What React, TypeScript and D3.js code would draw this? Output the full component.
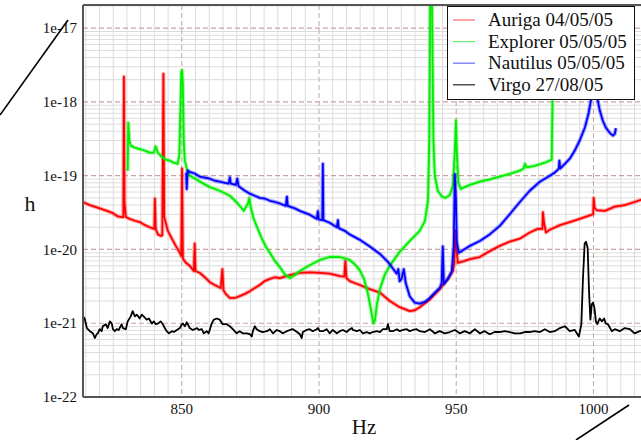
import React from 'react';
import * as d3 from 'd3';

type Pt = [number, number];

const freqDomain: [number, number] = [814, 1020];
const hDomain: [number, number] = [1e-22, 2.06e-17];
const xTicks = [850, 900, 950, 1000];
const yTicks = [1e-22, 1e-21, 1e-20, 1e-19, 1e-18, 1e-17];
const yTickLabels = ['1e-22', '1e-21', '1e-20', '1e-19', '1e-18', '1e-17'];
const xLabel = 'Hz';
const yLabel = 'h';
const seriesNames = ['Auriga 04/05/05', 'Explorer 05/05/05', 'Nautilus 05/05/05', 'Virgo 27/08/05'];
const seriesColors = ['#ff0000', '#00ee00', '#0000ff', '#000000'];
const legendColors = ['#ff6a6a', '#6af06a', '#6a6aff', '#222222'];

const auriga: Pt[] = [
  [813.9, 4.4e-20], [816.5, 4.0e-20], [820.1, 3.6e-20], [823.0, 3.3e-20], [824.9, 3.1e-20], [826.7, 2.8e-20],
  [828.1, 2.75e-20], [828.7, 2.75e-20], [828.9, 2.2e-18], [829.1, 4.5e-20], [829.6, 2.75e-20], [831.0, 2.6e-20],
  [832.9, 2.45e-20], [834.7, 2.35e-20], [836.5, 2.15e-20], [838.3, 2.0e-20], [840.0, 1.9e-20], [840.2, 4.9e-20],
  [840.5, 1.9e-20], [841.3, 1.6e-20], [842.3, 1.53e-20], [842.9, 1.55e-20], [843.3, 2.4e-18], [843.6, 2.75e-20],
  [844.9, 1.8e-20], [846.4, 1.4e-20], [847.8, 1.12e-20], [849.3, 9.0e-21], [849.8, 8.2e-21], [850.1, 1.25e-19],
  [850.4, 7.5e-21], [851.5, 6.6e-21], [852.9, 6.0e-21], [854.4, 5.1e-21], [854.7, 1.2e-20], [855.0, 5.1e-21],
  [856.6, 4.8e-21], [858.4, 4.2e-21], [860.2, 3.6e-21], [862.0, 3.3e-21], [864.2, 3.0e-21], [864.8, 5.4e-21],
  [865.2, 2.8e-21], [866.0, 2.5e-21], [867.5, 2.2e-21], [869.3, 2.2e-21], [871.1, 2.33e-21], [873.0, 2.5e-21],
  [874.8, 2.72e-21], [876.6, 3.0e-21], [878.4, 3.3e-21], [880.2, 3.73e-21], [882.1, 4.0e-21], [883.9, 4.2e-21],
  [885.7, 4.1e-21], [889.4, 4.5e-21], [893.0, 4.8e-21], [896.6, 4.9e-21], [900.3, 4.8e-21], [903.9, 4.7e-21],
  [907.6, 4.36e-21], [909.2, 4.3e-21], [909.6, 7.0e-21], [910.0, 4.1e-21], [911.2, 3.73e-21], [914.9, 3.3e-21],
  [918.5, 2.9e-21], [922.2, 2.6e-21], [925.8, 2.0e-21], [929.4, 1.65e-21], [933.1, 1.46e-21], [934.9, 1.5e-21],
  [936.7, 1.65e-21], [940.4, 2.1e-21], [944.0, 2.9e-21], [947.0, 4.0e-21], [948.8, 5.1e-21], [949.3, 6.6e-21],
  [949.7, 1.8e-20], [950.1, 1.0e-20], [950.6, 6.6e-21], [953.1, 7.0e-21], [955.0, 7.4e-21], [958.6, 7.9e-21],
  [962.2, 9.5e-21], [965.9, 1.12e-20], [969.5, 1.28e-20], [973.2, 1.4e-20], [976.8, 1.7e-20], [979.7, 1.9e-20],
  [981.4, 1.9e-20], [981.6, 3.2e-20], [982.0, 2.3e-20], [982.7, 1.7e-20], [984.1, 1.85e-20], [987.8, 2.14e-20],
  [991.4, 2.35e-20], [995.0, 2.6e-20], [998.7, 2.9e-20], [999.9, 3.0e-20], [1000.1, 5.0e-20], [1000.4, 3.7e-20],
  [1001.2, 3.4e-20], [1004.2, 3.34e-20], [1007.8, 3.8e-20], [1011.4, 4.0e-20], [1015.0, 4.4e-20], [1017.3, 4.7e-20],
  [1020, 4.8e-20],
];

const explorer: Pt[] = [
  [830.3, 1.17e-19], [830.5, 5.2e-19], [830.9, 3.0e-19], [831.4, 2.56e-19], [832.9, 2.4e-19], [834.7, 2.3e-19],
  [836.5, 2.19e-19], [838.3, 2.05e-19], [839.8, 2.05e-19], [840.5, 2.5e-19], [841.3, 2.05e-19], [842.7, 1.8e-19],
  [844.2, 1.65e-19], [845.6, 1.6e-19], [847.1, 1.5e-19], [848.5, 1.45e-19], [849.1, 1.9e-19], [849.5, 7.6e-19],
  [849.8, 2.5e-18], [850.1, 2.7e-18], [850.4, 1.7e-18], [850.7, 3.0e-19], [851.1, 1.6e-19], [851.8, 1.25e-19],
  [852.9, 1.0e-19], [854.7, 9.2e-20], [856.6, 8.3e-20], [860.2, 7.0e-20], [863.8, 6.25e-20], [867.5, 5.35e-20],
  [870.4, 4.2e-20], [872.6, 3.34e-20], [874.1, 4.2e-20], [874.6, 5.0e-20], [875.1, 3.8e-20], [876.2, 2.6e-20],
  [877.7, 1.9e-20], [879.2, 1.4e-20], [880.6, 1.1e-20], [882.1, 9.0e-21], [883.9, 7.0e-21], [885.7, 5.8e-21],
  [887.5, 4.6e-21], [889.4, 4.1e-21], [891.2, 4.5e-21], [893.0, 5.1e-21], [896.6, 6.1e-21], [900.3, 7.2e-21],
  [903.9, 7.9e-21], [907.6, 7.9e-21], [911.2, 7.2e-21], [913.0, 6.3e-21], [914.9, 5.2e-21], [916.4, 4.0e-21],
  [917.8, 2.55e-21], [918.9, 1.55e-21], [919.8, 1.0e-21], [920.4, 1.1e-21], [921.1, 1.8e-21], [922.2, 2.9e-21],
  [924.0, 4.6e-21], [925.8, 6.0e-21], [929.4, 9.3e-21], [933.1, 1.31e-20], [936.7, 1.79e-20], [938.6, 2.44e-20],
  [939.7, 4.57e-20], [940.2, 3.0e-19], [940.6, 4.5e-17], [941.1, 4.5e-17], [941.7, 3.0e-19], [942.2, 1.0e-19],
  [943.3, 6.25e-20], [944.8, 5.2e-20], [946.2, 5.0e-20], [947.7, 5.5e-20], [948.8, 7.3e-20], [949.5, 2.19e-19],
  [949.9, 5.6e-19], [950.2, 2.19e-19], [950.8, 8.0e-20], [951.7, 6.6e-20], [953.1, 7.0e-20], [955.0, 7.5e-20],
  [958.6, 8.3e-20], [962.2, 8.9e-20], [965.9, 9.7e-20], [969.5, 1.06e-19], [973.2, 1.17e-19], [974.6, 1.25e-19],
  [975.0, 1.45e-19], [975.7, 1.3e-19], [978.6, 1.36e-19], [982.3, 1.5e-19], [984.8, 1.65e-19], [985.1, 1.0e-18],
  [985.2, 1.05e-18],
];

const nautilus: Pt[] = [
  [851.6, 1.1e-19], [851.8, 6.6e-20], [852.1, 1.17e-19], [852.9, 1.13e-19], [854.7, 1.07e-19], [856.6, 9.7e-20],
  [858.4, 9.4e-20], [860.2, 9.1e-20], [862.0, 8.55e-20], [863.8, 8.3e-20], [865.7, 8.0e-20], [867.1, 7.8e-20],
  [867.5, 9.5e-20], [867.9, 7.8e-20], [869.7, 7.5e-20], [870.2, 9.1e-20], [870.7, 7.2e-20], [873.0, 6.25e-20],
  [874.8, 5.7e-20], [876.6, 5.35e-20], [878.4, 5.0e-20], [880.2, 4.9e-20], [882.1, 4.57e-20], [883.9, 4.4e-20],
  [885.7, 4.2e-20], [887.9, 3.9e-20], [888.3, 5.2e-20], [888.6, 3.9e-20], [891.2, 3.6e-20], [893.0, 3.34e-20],
  [896.6, 2.96e-20], [899.2, 2.6e-20], [899.6, 3.3e-20], [899.9, 2.55e-20], [901.2, 2.5e-20], [901.4, 1.45e-19],
  [901.6, 2.5e-20], [903.9, 2.3e-20], [906.5, 2.0e-20], [906.9, 2.5e-20], [907.2, 1.95e-20], [909.4, 1.79e-20],
  [911.2, 1.6e-20], [914.9, 1.35e-20], [918.5, 1.1e-20], [922.2, 8.7e-21], [925.1, 6.8e-21], [927.6, 5.1e-21],
  [928.3, 4.7e-21], [928.9, 5.4e-21], [929.4, 3.7e-21], [930.1, 4.0e-21], [930.9, 5.4e-21], [931.6, 3.5e-21],
  [933.1, 2.3e-21], [934.9, 1.9e-21], [936.7, 1.85e-21], [938.6, 1.95e-21], [940.4, 2.2e-21], [942.2, 2.6e-21],
  [944.0, 3.0e-21], [944.7, 3.5e-21], [945.1, 1.1e-20], [945.5, 3.4e-21], [947.0, 4.0e-21], [948.4, 5.1e-21],
  [949.1, 1.12e-20], [949.5, 1.05e-19], [949.9, 4.6e-20], [950.2, 1.3e-20], [950.9, 9.0e-21], [952.0, 9.5e-21],
  [955.0, 1.12e-20], [958.6, 1.3e-20], [962.2, 1.6e-20], [965.9, 2.09e-20], [969.5, 3.0e-20], [973.2, 4.4e-20],
  [976.8, 6.25e-20], [980.5, 8.3e-20], [984.1, 1.0e-19], [985.9, 1.1e-19], [987.4, 1.25e-19], [987.6, 1.6e-19],
  [987.9, 1.25e-19], [989.6, 1.45e-19], [991.4, 1.7e-19], [993.2, 2.19e-19], [995.0, 3.0e-19], [996.9, 4.5e-19],
  [998.3, 7.2e-19], [999.4, 1.23e-18], [1000.1, 1.53e-18], [1000.9, 1.43e-18], [1001.6, 1.05e-18], [1002.3, 7.7e-19],
  [1003.4, 5.6e-19], [1004.5, 4.5e-19], [1006.0, 3.8e-19], [1007.1, 3.5e-19], [1007.8, 3.7e-19], [1008.2, 4.4e-19],
];

const virgo: Pt[] = [
  [813.9, 1.24e-21], [814.6, 1.16e-21], [815.4, 8.6e-22], [816.5, 7.8e-22], [817.6, 7.3e-22], [818.3, 6.3e-22],
  [819.0, 7.1e-22], [819.4, 7.3e-22], [820.1, 8.3e-22], [820.8, 7.8e-22], [821.2, 9.1e-22], [822.3, 9.7e-22],
  [823.0, 8.6e-22], [823.8, 1.06e-21], [824.5, 9.9e-22], [824.9, 8.3e-22], [825.6, 7.8e-22], [826.3, 8.3e-22],
  [827.0, 8.1e-22], [828.1, 9.7e-22], [828.5, 8.6e-22], [829.6, 8.3e-22], [830.3, 1.06e-21], [831.4, 1.24e-21],
  [832.1, 1.46e-21], [832.9, 1.24e-21], [833.6, 1.31e-21], [834.7, 1.16e-21], [835.4, 1.31e-21], [836.1, 1.24e-21],
  [837.2, 1.12e-21], [838.0, 1.16e-21], [839.1, 9.9e-22], [839.8, 1.06e-21], [840.5, 9.7e-22], [841.3, 9.9e-22],
  [842.3, 1.06e-21], [843.1, 9.7e-22], [843.8, 8.6e-22], [844.5, 7.8e-22], [845.3, 7.3e-22], [846.4, 7.8e-22],
  [847.1, 7.6e-22], [848.2, 8.1e-22], [849.3, 8.6e-22], [850.0, 9.7e-22], [850.4, 9.9e-22], [851.1, 9.1e-22],
  [851.8, 1.03e-21], [852.2, 9.7e-22], [852.9, 8.6e-22], [854.0, 8.1e-22], [854.7, 8.3e-22], [855.5, 8.6e-22],
  [856.2, 8.1e-22], [857.3, 8.3e-22], [858.0, 7.3e-22], [859.1, 7.8e-22], [859.8, 7.3e-22], [860.9, 9.9e-22],
  [861.7, 1.12e-21], [862.8, 1.16e-21], [863.8, 1.12e-21], [864.9, 9.7e-22], [866.4, 9.7e-22], [867.5, 9.1e-22],
  [868.6, 8.3e-22], [870.0, 7.3e-22], [871.1, 7.8e-22], [872.2, 7.3e-22], [873.7, 7.3e-22], [874.8, 7.1e-22],
  [875.5, 6.6e-22], [875.9, 7.8e-22], [876.6, 9.1e-22], [877.3, 8.3e-22], [878.4, 7.8e-22], [879.5, 7.6e-22],
  [881.0, 7.8e-22], [882.1, 8.3e-22], [883.2, 7.3e-22], [884.6, 8.1e-22], [885.7, 7.8e-22], [886.8, 7.3e-22],
  [888.3, 7.8e-22], [889.4, 8.1e-22], [890.5, 8.3e-22], [892.0, 7.6e-22], [893.0, 7.1e-22], [893.7, 6.3e-22],
  [894.1, 7.6e-22], [895.5, 8.1e-22], [896.6, 8.3e-22], [897.7, 7.8e-22], [899.2, 8.3e-22], [899.6, 8.6e-22],
  [900.3, 7.8e-22], [901.4, 7.8e-22], [902.8, 8.3e-22], [903.9, 7.3e-22], [905.0, 8.1e-22], [906.5, 7.3e-22],
  [907.6, 7.8e-22], [908.7, 8.1e-22], [910.1, 7.6e-22], [911.2, 8.3e-22], [912.0, 8.6e-22], [912.3, 8.1e-22],
  [913.8, 7.8e-22], [914.9, 8.1e-22], [916.0, 7.3e-22], [917.4, 7.6e-22], [918.5, 7.3e-22], [919.6, 7.6e-22],
  [921.1, 7.8e-22], [922.2, 7.6e-22], [923.3, 8.3e-22], [924.7, 8.3e-22], [925.1, 9.7e-22], [925.8, 7.8e-22],
  [926.9, 7.8e-22], [928.4, 8.3e-22], [929.4, 7.8e-22], [930.5, 8.1e-22], [932.0, 8.3e-22], [933.1, 7.8e-22],
  [934.2, 8.1e-22], [935.6, 8.3e-22], [936.7, 7.8e-22], [938.6, 7.6e-22], [940.4, 8.3e-22], [942.2, 7.3e-22],
  [944.0, 7.8e-22], [945.8, 7.3e-22], [947.7, 7.6e-22], [949.5, 8.1e-22], [951.3, 7.3e-22], [953.1, 7.8e-22],
  [955.0, 7.3e-22], [956.8, 8.3e-22], [958.6, 7.3e-22], [960.4, 7.8e-22], [962.2, 7.1e-22], [964.0, 7.6e-22],
  [965.9, 7.6e-22], [967.7, 7.8e-22], [969.5, 7.6e-22], [971.4, 7.3e-22], [973.2, 7.3e-22], [975.0, 7.6e-22],
  [976.8, 7.6e-22], [978.6, 7.8e-22], [980.5, 7.6e-22], [982.3, 8.3e-22], [984.1, 7.6e-22], [985.9, 7.8e-22],
  [987.8, 8.6e-22], [989.6, 9.1e-22], [991.4, 7.8e-22], [993.2, 8.1e-22], [994.7, 6.6e-22], [995.6, 9.7e-22],
  [996.2, 4.1e-21], [996.8, 1.2e-20], [997.3, 1.27e-20], [997.9, 1.05e-20], [998.4, 2.72e-21], [998.9, 1.12e-21],
  [999.4, 1.8e-21], [999.9, 1.9e-21], [1000.4, 1.58e-21], [1000.9, 1.06e-21], [1001.4, 9.7e-22], [1002.3, 1.16e-21],
  [1003.1, 1.06e-21], [1003.9, 1.16e-21], [1004.5, 9.9e-22], [1005.3, 9.7e-22], [1006.7, 7.8e-22], [1007.8, 8.3e-22],
  [1009.6, 7.8e-22], [1011.4, 8.6e-22], [1013.3, 8.3e-22], [1015.0, 7.3e-22], [1016.9, 7.8e-22], [1018.7, 8.1e-22],
];

const seriesData: Pt[][] = [auriga, explorer, nautilus, virgo];

export default function App() {
  const W = 641;
  const H = 440;
  const left = 83;
  const top = 5;
  const bottom = 397;
  const plotRight = 648.3;
  const font = '"Liberation Serif", "Times New Roman", serif';

  const x = d3.scaleLinear().domain(freqDomain).range([left, plotRight]);
  const y = d3.scaleLog().domain(hDomain).range([bottom, top]);
  const line = d3
    .line<Pt>()
    .x((d) => x(d[0]))
    .y((d) => y(d[1]));

  const minorX = d3.range(815, 1021, 5).filter((f) => f % 50 !== 0);
  const minorY: number[] = [];
  for (let e = -22; e <= -17; e++) {
    for (let k = 2; k <= 9; k++) {
      const v = k * Math.pow(10, e);
      if (v < hDomain[1]) minorY.push(v);
    }
  }

  const gridMinor = '#dcdcdc';
  const gridMajor = '#c9a3a3';

  return (
    <svg
      width={W}
      height={H}
      style={{ position: 'absolute', left: 0, top: 0, background: '#fff' }}
      xmlns="http://www.w3.org/2000/svg"
    >
      <defs>
        <clipPath id="plot">
          <rect x={left} y={top} width={W - left} height={bottom - top} />
        </clipPath>
      </defs>
      <rect x={0} y={0} width={W} height={H} fill="#fff" />
      <g clipPath="url(#plot)">
        {minorX.map((f) => (
          <line key={'vx' + f} x1={x(f)} x2={x(f)} y1={top} y2={bottom} stroke={gridMinor} strokeWidth={1} />
        ))}
        {minorY.map((v, i) => (
          <line key={'hy' + i} x1={left} x2={W} y1={y(v)} y2={y(v)} stroke={gridMinor} strokeWidth={1} />
        ))}
        {xTicks.map((f) => (
          <line key={'mx' + f} x1={x(f)} x2={x(f)} y1={top} y2={bottom} stroke={gridMajor} strokeWidth={1} strokeDasharray="5,3" />
        ))}
        {yTicks.map((v, i) => (
          <line key={'my' + i} x1={left} x2={W} y1={y(v)} y2={y(v)} stroke={gridMajor} strokeWidth={1.2} strokeDasharray="5,3" />
        ))}
        {seriesData.map((d, i) => (
          <g key={'s' + i}>
            {i < 3 && (
              <path
                d={line(d) || ''}
                fill="none"
                stroke={seriesColors[i]}
                strokeOpacity={0.35}
                strokeWidth={4}
                strokeLinejoin="round"
              />
            )}
            <path
              d={line(d) || ''}
              fill="none"
              stroke={seriesColors[i]}
              strokeWidth={i === 3 ? 1.8 : 1.8}
              strokeLinejoin="round"
            />
          </g>
        ))}
      </g>
      {/* frame */}
      <line x1={left} x2={left} y1={top} y2={bottom} stroke="#555" strokeWidth={2} />
      <line x1={left} x2={W} y1={top} y2={top} stroke="#555" strokeWidth={2} />
      <line x1={left} x2={W} y1={bottom} y2={bottom} stroke="#555" strokeWidth={2} />
      {/* y tick labels */}
      {yTicks.map((v, i) => (
        <text key={'yl' + i} x={77} y={y(v)} dy="0.35em" textAnchor="end" fontFamily={font} fontSize={15} fill="#111">
          {yTickLabels[i]}
        </text>
      ))}
      {xTicks.map((f) => (
        <text key={'xl' + f} x={x(f)} y={414} textAnchor="middle" fontFamily={font} fontSize={15} fill="#111">
          {String(f)}
        </text>
      ))}
      <text x={364} y={434} textAnchor="middle" fontFamily={font} fontSize={21} fill="#111">
        {xLabel}
      </text>
      <text x={30} y={211} textAnchor="middle" fontFamily={font} fontSize={22} fill="#111">
        {yLabel}
      </text>
      {/* legend */}
      <rect x={447.5} y={6.5} width={187} height={93} fill="#fff" stroke="#111" strokeWidth={1} />
      {seriesNames.map((n, i) => {
        const cy = 20 + i * 21.6;
        return (
          <g key={'lg' + i}>
            <line x1={453} x2={475} y1={cy} y2={cy} stroke={legendColors[i]} strokeWidth={1.2} />
            <text x={488} y={cy} dy="0.33em" fontFamily={font} fontSize={19} fill="#111">
              {n}
            </text>
          </g>
        );
      })}
      {/* decorative diagonal strokes from the scanned figure */}
      <line x1={0} y1={115} x2={68} y2={20} stroke="#000" strokeWidth={1.6} />
      <line x1={576} y1={440} x2={629} y2={405} stroke="#000" strokeWidth={1.6} />
    </svg>
  );
}
